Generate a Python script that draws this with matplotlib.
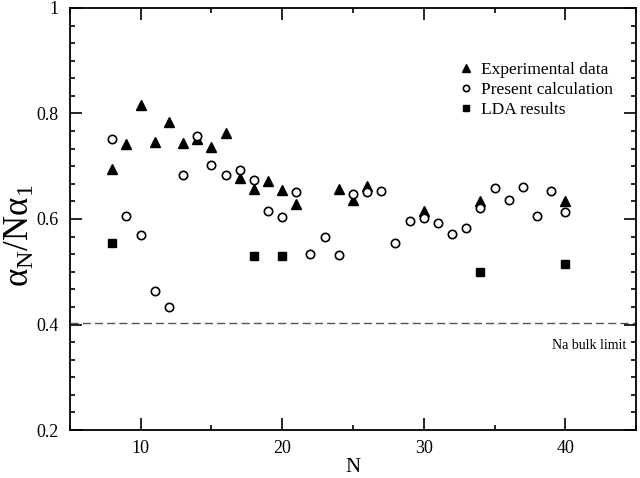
import matplotlib
matplotlib.use("Agg")
import matplotlib.pyplot as plt
from matplotlib.ticker import MultipleLocator, AutoMinorLocator

plt.rcParams['font.family'] = ['Liberation Serif', 'DejaVu Serif']
plt.rcParams['mathtext.fontset'] = 'custom'
plt.rcParams['mathtext.rm'] = 'Liberation Serif'
plt.rcParams['mathtext.it'] = 'Liberation Serif:italic'

exp_N = [8, 9, 10, 11, 12, 13, 14, 15, 16, 17, 18, 19, 20, 21, 24, 25, 26, 30, 34, 40]
exp_val = [0.694, 0.742, 0.817, 0.746, 0.784, 0.745, 0.751, 0.736, 0.763, 0.677,
           0.657, 0.672, 0.655, 0.629, 0.657, 0.636, 0.663, 0.616, 0.635, 0.634]

calc_N = list(range(8, 41))
calc_val = [0.752, 0.606, 0.570, 0.4635, 0.434, 0.684, 0.758, 0.702, 0.683, 0.692,
            0.674, 0.616, 0.603, 0.652, 0.533, 0.566, 0.532, 0.647, 0.652, 0.654,
            0.554, 0.597, 0.602, 0.592, 0.572, 0.583, 0.620, 0.659, 0.636, 0.661,
            0.606, 0.653, 0.614]

lda_N = [8, 18, 20, 34, 40]
lda_val = [0.554, 0.530, 0.530, 0.500, 0.515]

bulk_limit = 0.402

fig = plt.figure(figsize=(6.4, 4.78), dpi=100)
ax = fig.add_axes([0.109, 0.1004, 0.885, 0.8829])

ax.axhline(bulk_limit, color='#555555', lw=1.0, ls=(0, (5.8, 3)), zorder=1)
ax.plot(exp_N, exp_val, ls='none', marker='^', ms=7, color='black',
        label='Experimental data', zorder=3)
ax.plot(calc_N, calc_val, ls='none', marker='o', ms=6, mfc='white', mec='black',
        mew=1.2, label='Present calculation', zorder=4)
ax.plot(lda_N, lda_val, ls='none', marker='s', ms=5.5, color='black',
        label='LDA results', zorder=3)

ax.set_xlim(5, 45)
ax.set_ylim(0.2, 1.0)
ax.xaxis.set_major_locator(MultipleLocator(10))
ax.xaxis.set_minor_locator(MultipleLocator(5))
ax.set_yticks([0.2, 0.4, 0.6, 0.8, 1.0])
ax.set_yticklabels(['0.2', '0.4', '0.6', '0.8', '1'])
ax.yaxis.set_minor_locator(AutoMinorLocator(6))

ax.tick_params(which='both', direction='in', top=True, right=True, labelsize=13,
               width=1.2)
ax.tick_params(which='major', length=8.5)
ax.tick_params(which='minor', length=3.5)
ax.tick_params(axis='y', which='major', pad=8)
ax.tick_params(axis='x', which='major', pad=7)
for s in ax.spines.values():
    s.set_linewidth(1.3)

ax.set_xlabel('N', fontsize=15, labelpad=1)
ax.set_ylabel(r'$\mathrm{α_N/Nα_1}$', fontsize=25, va='center')
ax.yaxis.set_label_coords(-0.0866, 0.46)

ax.text(0.982, 0.201, 'Na bulk limit', transform=ax.transAxes, ha='right',
        va='center', fontsize=10)

leg = ax.legend(loc='upper left', bbox_to_anchor=(0.690, 0.873), frameon=False,
                fontsize=12.5, handlelength=0.6, handletextpad=0.55,
                labelspacing=0.22, borderaxespad=0, borderpad=0, markerscale=0.75)

fig.savefig('out.png', dpi=100)
